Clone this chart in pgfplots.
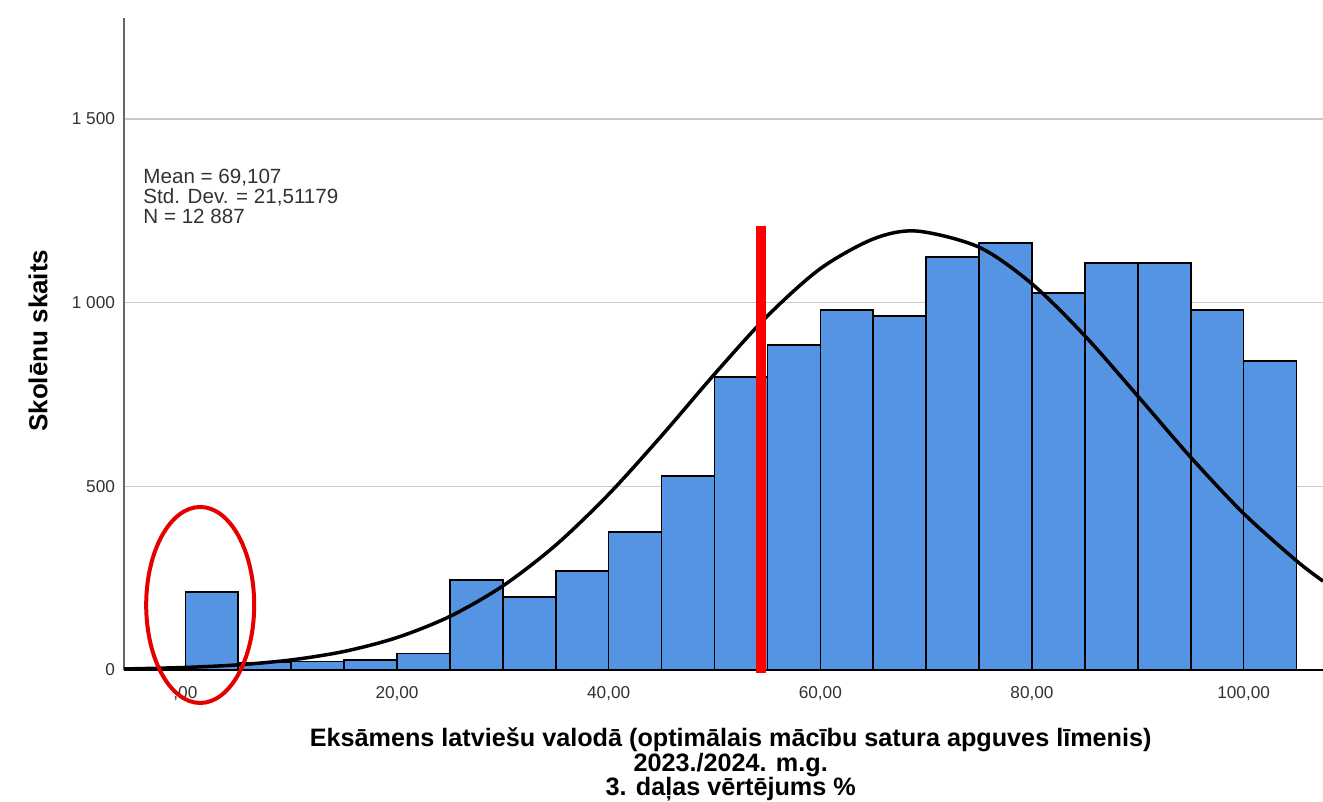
\documentclass[border=0pt]{standalone}
\usepackage{pgfplots}
\pgfplotsset{compat=1.18}
\usepackage{fontspec}
\setmainfont{Liberation Sans}
\definecolor{barblue}{RGB}{85,148,226}
\definecolor{gridgray}{RGB}{200,200,200}
\definecolor{ticktext}{RGB}{50,50,50}
\begin{document}
\begin{tikzpicture}
\begin{axis}[
  at={(0,0)}, anchor=south west,
  scale only axis, width=599.5pt, height=326pt,
  xmin=-5.8, xmax=107.5, ymin=0, ymax=1775,
  clip=false,
  axis x line*=bottom, axis y line*=left,
  x axis line style={black, line width=1.3pt, -},
  y axis line style={black!60, line width=1pt, -},
  xtick={0,20,40,60,80,100},
  xticklabels={{,00},{20,00},{40,00},{60,00},{80,00},{100,00}},
  ytick={0,500,1000,1500},
  yticklabels={0,500,{1 000},{1 500}},
  major tick length=0pt,
  ymajorgrids, grid style={gridgray, line width=0.75pt},
  ticklabel style={font=\fontsize{8.6}{9.5}\selectfont, text=ticktext},
  xticklabel style={yshift=-4.5pt},
  yticklabel style={xshift=-1pt},
  xlabel={Eksāmens latviešu valodā (optimālais mācību satura apguves līmenis)\\2023./2024. m.g.\\3. daļas vērtējums \%},
  xlabel style={font=\bfseries\fontsize{12.6}{12.25}\selectfont, align=center, at={(axis description cs:0.506,-0.078)}, anchor=north},
  ylabel={Skolēnu skaits},
  ylabel style={font=\bfseries\fontsize{13}{15}\selectfont, at={(axis description cs:-0.0717,0.505)}, anchor=center},
]
\addplot[ybar interval, fill=barblue, draw=black, line width=0.8pt] coordinates {
(0,212) (5,20) (10,23) (15,27) (20,45) (25,245) (30,199) (35,270) (40,376) (45,528)
(50,798) (55,885) (60,980) (65,964) (70,1124) (75,1163) (80,1026) (85,1108) (90,1108)
(95,980) (100,841) (105,841)};
\addplot[black, line width=1.75pt, smooth] coordinates {
(-5.8,2.8) (0,6.9) (5,14.1) (10,27.4) (15,50.5) (20,88.3) (25,146.0) (30,228.9) (35,340.0)
(40,478.4) (45,637.7) (50,805.5) (55,963.8) (60,1092.6) (65,1173.4) (69.1,1195) (75,1151.0)
(80,1051.2) (85,909.6) (90,745.7) (95,579.1) (100,426.1) (105,297.1) (107.5,242)};
\addplot[red, line width=5pt] coordinates {(54.4,-8) (54.4,1209)};
\draw[red!90!black, line width=2pt] (axis cs:1.4,177) ellipse [x radius=27pt, y radius=49pt];
\node[anchor=north west, align=left, inner sep=0pt, font=\fontsize{10.3}{10}\selectfont, text=ticktext] at (axis cs:-4.0,1365) {Mean = 69,107\\Std. Dev. = 21,51179\\N = 12 887};
\end{axis}
\pgfresetboundingbox
\path[use as bounding box] (-62pt,-66pt) rectangle (599.5pt,335pt);
\end{tikzpicture}
\end{document}
